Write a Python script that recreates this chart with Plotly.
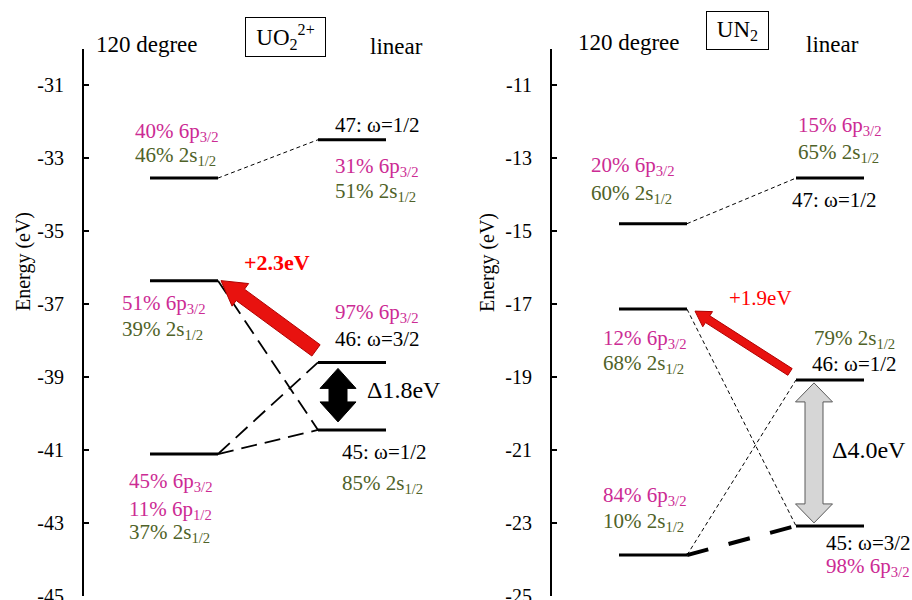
import math
import plotly.graph_objects as go

FONT = "Liberation Serif"
MAG = "#cc2b94"
OLI = "#4f6228"
BLK = "#000000"
RED = "#ff0000"

# ---------------- data ----------------
columns = ["120 degree", "linear"]
uo2_bent = [-33.55, -36.36, -41.11]      # 120 degree levels (eV)
uo2_linear = [-32.50, -38.60, -40.45]    # linear levels 47, 46, 45 (eV)
un2_bent = [-14.80, -17.14, -23.88]
un2_linear = [-13.55, -19.08, -23.08]
uo2_yrange = [-45, -30]
un2_yrange = [-25, -10]
uo2_ticks = [-45, -43, -41, -39, -37, -35, -33, -31]
un2_ticks = [-25, -23, -21, -19, -17, -15, -13, -11]
# correlation lines: (bent index, linear index, style)
uo2_links = [(0, 0, "thin"), (1, 2, "medium"), (2, 1, "medium"), (2, 2, "medium")]
un2_links = [(0, 0, "thin"), (1, 2, "thin"), (2, 1, "thin"), (2, 2, "thick")]

uo2_texts = [
    ("b", 0, "40% 6p<sub>3/2</sub>", MAG), ("b", 0, "46% 2s<sub>1/2</sub>", OLI),
    ("l", 0, "47: ω=1/2", BLK), ("l", 0, "31% 6p<sub>3/2</sub>", MAG), ("l", 0, "51% 2s<sub>1/2</sub>", OLI),
    ("b", 1, "51% 6p<sub>3/2</sub>", MAG), ("b", 1, "39% 2s<sub>1/2</sub>", OLI),
    ("l", 1, "97% 6p<sub>3/2</sub>", MAG), ("l", 1, "46: ω=3/2", BLK),
    ("l", 2, "45: ω=1/2", BLK), ("l", 2, "85% 2s<sub>1/2</sub>", OLI),
    ("b", 2, "45% 6p<sub>3/2</sub>", MAG), ("b", 2, "11% 6p<sub>1/2</sub>", MAG), ("b", 2, "37% 2s<sub>1/2</sub>", OLI),
]
un2_texts = [
    ("l", 0, "15% 6p<sub>3/2</sub>", MAG), ("l", 0, "65% 2s<sub>1/2</sub>", OLI), ("l", 0, "47: ω=1/2", BLK),
    ("b", 0, "20% 6p<sub>3/2</sub>", MAG), ("b", 0, "60% 2s<sub>1/2</sub>", OLI),
    ("b", 1, "12% 6p<sub>3/2</sub>", MAG), ("b", 1, "68% 2s<sub>1/2</sub>", OLI),
    ("l", 1, "79% 2s<sub>1/2</sub>", OLI), ("l", 1, "46: ω=1/2", BLK),
    ("b", 2, "84% 6p<sub>3/2</sub>", MAG), ("b", 2, "10% 2s<sub>1/2</sub>", OLI),
    ("l", 2, "45: ω=3/2", BLK), ("l", 2, "98% 6p<sub>3/2</sub>", MAG),
]
uo2_shift_label = "+2.3eV"
uo2_gap_label = "Δ1.8eV"
un2_shift_label = "+1.9eV"
un2_gap_label = "Δ4.0eV"

# ---------------- layout geometry (pixels) ----------------
W, H = 912, 600
TOP, BOT = 48.5, 596.0
HALF = 34  # half level width in px

# text offsets (xshift, yshift) relative to the left end of the level
uo2_offsets = [(-17, 46), (-17, 22), (15, 15), (15, -27), (15, -52),
               (-30, -23), (-30, -49), (15, 49), (15, 23), (22, -22), (22, -54),
               (-23, -28), (-23, -56), (-23, -79)]
un2_offsets = [(0, 52), (0, 25), (-6, -22), (-30, 58), (-30, 30),
               (-18, -30), (-18, -55), (16, 41), (14, 16),
               (-18, 59), (-18, 33), (28, -17), (28, -41)]

panels = [
    dict(name="UO<sub>2</sub><sup>2+</sup>", bent=uo2_bent, lin=uo2_linear, yr=uo2_yrange, ticks=uo2_ticks,
         links=uo2_links, texts=uo2_texts, offs=uo2_offsets, axis_px=84, right_px=456, cols=(184, 352),
         xa="x", ya="y", shift_lbl=uo2_shift_label, gap_lbl=uo2_gap_label, shift_bold=True,
         shift_off=(92, 18), gap_off=(47, -28),
         red=dict(tail=(-2, -12), tip=(3, 0), w=14, hw=28, hl=24),
         dbl=dict(dx=20, top=6, bot=-8, w=18, hw=36, hl=20, fill="#000000", line="#000000"),
         box=dict(cx=285.5, cy=37, w=79, h=38), t120=(94, 45), tlin=(396.5, 46), etitle=(23, 262)),
    dict(name="UN<sub>2</sub>", bent=un2_bent, lin=un2_linear, yr=un2_yrange, ticks=un2_ticks,
         links=un2_links, texts=un2_texts, offs=un2_offsets, axis_px=552, right_px=912, cols=(653, 830),
         xa="x2", ya="y2", shift_lbl=un2_shift_label, gap_lbl=un2_gap_label, shift_bold=False,
         shift_off=(108, 11), gap_off=(34, -70),
         red=dict(tail=(-6, -8), tip=(8, 2), w=8, hw=18, hl=15),
         dbl=dict(dx=18, top=3, bot=-3, w=18, hw=37, hl=19, fill="#d6d6d6", line="#5a5a5a"),
         box=dict(cx=737.5, cy=30.5, w=61, h=37), t120=(576, 43), tlin=(832.5, 44), etitle=(487, 262)),
]

LINK_STYLE = {"thin": dict(width=1, dash="4px,3px"),
              "medium": dict(width=1.8, dash="16px,8px"),
              "thick": dict(width=4, dash="22px,21px")}

fig = go.Figure()
shapes, annos = [], []
ppe = (BOT - TOP) / 15.0  # pixels per eV


def tick_font():
    return dict(family=FONT, size=20, color="black")


for p in panels:
    c0, c1 = p["cols"]
    sp = c1 - c0
    ymax = p["yr"][1]
    hw = HALF / sp

    def to_data(px, py, c0=c0, sp=sp, ymax=ymax):
        return (px - c0) / sp, ymax - (py - TOP) / ppe

    def to_px(x, e, c0=c0, sp=sp, ymax=ymax):
        return c0 + x * sp, TOP + (ymax - e) * ppe

    # levels
    xs, ys = [], []
    for col, vals in ((0, p["bent"]), (1, p["lin"])):
        for e in vals:
            xs += [col - hw, col + hw, None]
            ys += [e, e, None]
    fig.add_trace(go.Scatter(x=xs, y=ys, mode="lines", line=dict(color="black", width=3),
                             xaxis=p["xa"], yaxis=p["ya"], hoverinfo="skip", showlegend=False))
    # correlation lines
    for bi, li, st in p["links"]:
        fig.add_trace(go.Scatter(x=[0 + hw, 1 - hw], y=[p["bent"][bi], p["lin"][li]], mode="lines",
                                 line=dict(color="black", **LINK_STYLE[st]),
                                 xaxis=p["xa"], yaxis=p["ya"], hoverinfo="skip", showlegend=False))

    # composition texts
    for (side, idx, txt, colr), (dx, dy) in zip(p["texts"], p["offs"]):
        col = 0 if side == "b" else 1
        e = p["bent"][idx] if side == "b" else p["lin"][idx]
        annos.append(dict(x=col - hw, y=e, xref=p["xa"], yref=p["ya"], text=txt, showarrow=False,
                          xanchor="left", yanchor="middle", xshift=dx, yshift=dy,
                          font=dict(family=FONT, size=21, color=colr)))

    # red arrow (linear 46 -> bent middle)
    r = p["red"]
    tx, ty = to_px(1 - hw, p["lin"][1])
    tx, ty = tx + r["tail"][0], ty + r["tail"][1]
    px_, py_ = to_px(0 + hw, p["bent"][1])
    px_, py_ = px_ + r["tip"][0], py_ + r["tip"][1]
    L = math.hypot(px_ - tx, py_ - ty)
    ux, uy = (px_ - tx) / L, (py_ - ty) / L
    nx, ny = -uy, ux
    bx, by = px_ - ux * r["hl"], py_ - uy * r["hl"]
    pts = [(tx + nx * r["w"] / 2, ty + ny * r["w"] / 2), (bx + nx * r["w"] / 2, by + ny * r["w"] / 2),
           (bx + nx * r["hw"] / 2, by + ny * r["hw"] / 2), (px_, py_),
           (bx - nx * r["hw"] / 2, by - ny * r["hw"] / 2), (bx - nx * r["w"] / 2, by - ny * r["w"] / 2),
           (tx - nx * r["w"] / 2, ty - ny * r["w"] / 2)]
    dpts = [to_data(a, b) for a, b in pts]
    path = "M " + " L ".join(f"{a:.5f},{b:.5f}" for a, b in dpts) + " Z"
    shapes.append(dict(type="path", path=path, xref=p["xa"], yref=p["ya"],
                       fillcolor="#e8120f", line=dict(color="#b00000", width=1), layer="above"))

    # double arrow (gap between 46 and 45)
    d = p["dbl"]
    x_left, y46 = to_px(1 - hw, p["lin"][1])
    _, y45 = to_px(1 - hw, p["lin"][2])
    cx = x_left + d["dx"]
    t1 = y46 + d["top"]
    t2 = y45 + d["bot"]
    w2, hw2, hl = d["w"] / 2, d["hw"] / 2, d["hl"]
    pts = [(cx, t1), (cx + hw2, t1 + hl), (cx + w2, t1 + hl), (cx + w2, t2 - hl), (cx + hw2, t2 - hl),
           (cx, t2), (cx - hw2, t2 - hl), (cx - w2, t2 - hl), (cx - w2, t1 + hl), (cx - hw2, t1 + hl)]
    dpts = [to_data(a, b) for a, b in pts]
    path = "M " + " L ".join(f"{a:.5f},{b:.5f}" for a, b in dpts) + " Z"
    shapes.append(dict(type="path", path=path, xref=p["xa"], yref=p["ya"],
                       fillcolor=d["fill"], line=dict(color=d["line"], width=1), layer="above"))

    # shift / gap labels
    annos.append(dict(x=0 - hw, y=p["bent"][1], xref=p["xa"], yref=p["ya"],
                      text=(f"<b>{p['shift_lbl']}</b>" if p["shift_bold"] else p["shift_lbl"]),
                      showarrow=False, xanchor="left", yanchor="middle",
                      xshift=p["shift_off"][0], yshift=p["shift_off"][1],
                      font=dict(family=FONT, size=22 if p["shift_bold"] else 21, color=RED)))
    annos.append(dict(x=1 - hw, y=p["lin"][1], xref=p["xa"], yref=p["ya"], text=p["gap_lbl"],
                      showarrow=False, xanchor="left", yanchor="middle",
                      xshift=p["gap_off"][0], yshift=p["gap_off"][1],
                      font=dict(family=FONT, size=24, color="black")))

    # headers
    annos.append(dict(x=p["t120"][0] / W, y=1 - p["t120"][1] / H, xref="paper", yref="paper",
                      text=columns[0], showarrow=False, xanchor="left", yanchor="middle",
                      font=dict(family=FONT, size=23, color="black")))
    annos.append(dict(x=p["tlin"][0] / W, y=1 - p["tlin"][1] / H, xref="paper", yref="paper",
                      text=columns[1], showarrow=False, xanchor="center", yanchor="middle",
                      font=dict(family=FONT, size=23, color="black")))
    b = p["box"]
    annos.append(dict(x=b["cx"] / W, y=1 - b["cy"] / H, xref="paper", yref="paper", text=p["name"],
                      showarrow=False, xanchor="center", yanchor="middle", width=b["w"], height=b["h"],
                      bordercolor="black", borderwidth=1, borderpad=0, bgcolor="white",
                      font=dict(family=FONT, size=23, color="black")))
    annos.append(dict(x=p["etitle"][0] / W, y=1 - p["etitle"][1] / H, xref="paper", yref="paper",
                      text="Energy (eV)", textangle=-90, showarrow=False, xanchor="center", yanchor="middle",
                      font=dict(family=FONT, size=20, color="black")))

    # axes
    xr = [(p["axis_px"] - c0) / sp, (p["right_px"] - c0) / sp]
    xkey = "xaxis" if p["xa"] == "x" else "xaxis2"
    ykey = "yaxis" if p["ya"] == "y" else "yaxis2"
    fig.update_layout(**{
        xkey: dict(domain=[p["axis_px"] / W, p["right_px"] / W], range=xr, visible=False,
                   anchor=p["ya"], fixedrange=True),
        ykey: dict(domain=[1 - BOT / H, 1 - TOP / H], range=p["yr"], anchor=p["xa"],
                   tickvals=p["ticks"], ticktext=[str(t) for t in p["ticks"]],
                   showgrid=False, zeroline=False, showline=True, linecolor="black", linewidth=2,
                   ticks="inside", ticklen=5, tickwidth=2, tickcolor="black",
                   tickfont=tick_font(), ticklabelstandoff=14, ticklabeloverflow="allow",
                   automargin=False, fixedrange=True),
    })

fig.update_layout(width=W, height=H, margin=dict(l=0, r=0, t=0, b=0, autoexpand=False),
                  paper_bgcolor="white", plot_bgcolor="white",
                  shapes=shapes, annotations=annos, showlegend=False)

fig.write_html("out.html", config={"displayModeBar": False})
